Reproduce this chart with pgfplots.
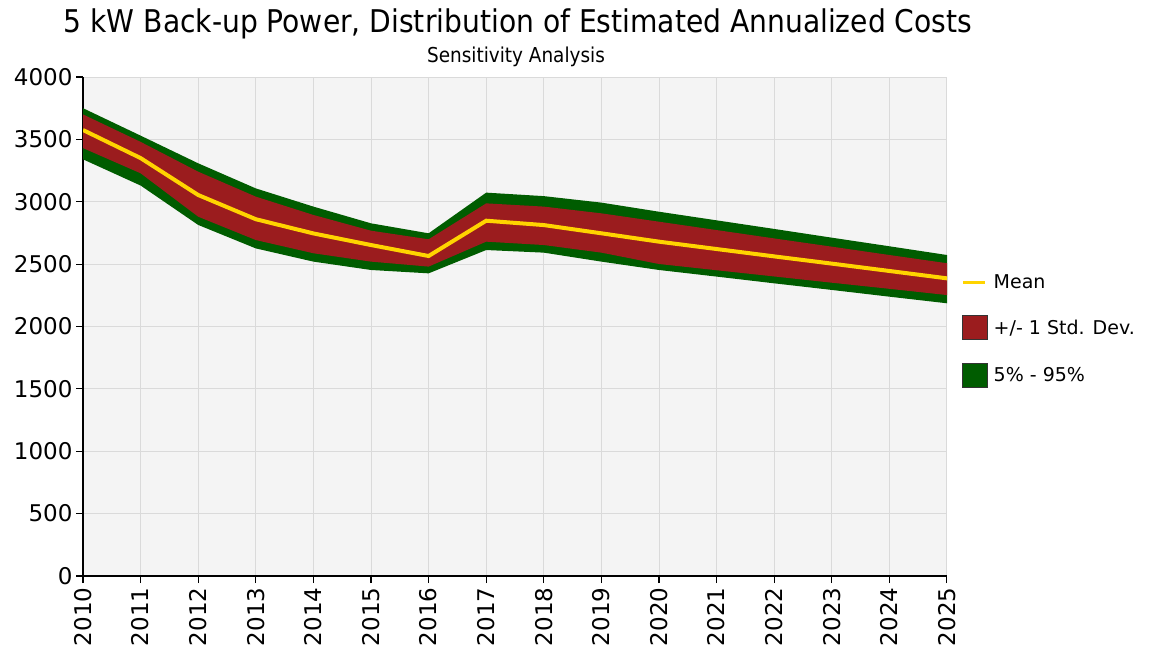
\documentclass[border=0pt]{standalone}
\usepackage{fontspec}
\setmainfont{DejaVu Sans}
\newfontfamily\condfont{DejaVu Sans Condensed}
\usepackage{pgfplots}
\pgfplotsset{compat=1.18}
\usepackage{pgfplotstable}
\usepgfplotslibrary{fillbetween}
\definecolor{bandgreen}{RGB}{0,92,0}
\definecolor{bandred}{RGB}{155,28,30}
\definecolor{meanyellow}{RGB}{255,212,0}
\definecolor{plotbg}{RGB}{244,244,244}
\definecolor{gridgray}{RGB}{218,218,218}
\pgfplotstableread{
year hi95 hi1 mean lo1 lo5
2010 3750 3700 3575 3430 3340
2011 3530 3480 3350 3228 3130
2012 3308 3241 3054 2880 2814
2013 3107 3041 2860 2693 2626
2014 2961 2894 2746 2587 2520
2015 2827 2768 2653 2520 2453
2016 2747 2699 2565 2480 2426
2017 3073 2987 2848 2680 2613
2018 3045 2961 2813 2653 2592
2019 2993 2907 2747 2592 2520
2020 2920 2840 2680 2501 2453
2021 2851 2773 2621 2451 2400
2022 2782 2706 2562 2401 2346
2023 2712 2640 2504 2351 2293
2024 2643 2573 2445 2302 2239
2025 2573 2507 2386 2252 2186
}\costdata
\begin{document}
\begin{tikzpicture}
\begin{axis}[
  name=ax,
  at={(0,0)}, anchor=south west,
  scale only axis, width=864pt, height=499pt,
  xmin=2010, xmax=2025, ymin=0, ymax=4000,
  xtick={2010,...,2025}, ytick={0,500,...,4000},
  axis x line*=bottom, axis y line*=left,
  axis line style={black, line width=1.3pt, -},
  axis background/.style={fill=plotbg},
  grid=major, major grid style={gridgray, line width=0.9pt},
  tick align=outside, major tick length=7pt,
  tick style={black, line width=1.1pt},
  xticklabel style={rotate=90, anchor=east, font=\fontsize{23}{23}\selectfont, xshift=-1pt},
  yticklabel style={font=\fontsize{23}{23}\selectfont},
  x tick label style={/pgf/number format/1000 sep={}},
  /pgf/number format/assume math mode=true,
  /pgf/number format/1000 sep={},
  legend style={at={(1.013,0.612)}, anchor=north west, draw=none, fill=none,
    font=\fontsize{19}{19}\selectfont, row sep=23pt,
    nodes={inner xsep=6pt}},
  legend cell align=left,
]
\addplot[draw=none, name path=hi95, forget plot] table[x=year, y=hi95] {\costdata};
\addplot[draw=none, name path=hi1, forget plot] table[x=year, y=hi1] {\costdata};
\addplot[draw=none, name path=lo1, forget plot] table[x=year, y=lo1] {\costdata};
\addplot[draw=none, name path=lo5, forget plot] table[x=year, y=lo5] {\costdata};
\addplot[bandgreen, forget plot] fill between[of=hi95 and lo5];
\addplot[bandred, forget plot] fill between[of=hi1 and lo1];
\addplot[meanyellow, line width=4pt, forget plot] table[x=year, y=mean] {\costdata};
\addlegendimage{legend image code/.code={\draw[meanyellow, line width=3.5pt] (1pt,0pt) -- (23pt,0pt);}}
\addlegendentry{Mean}
\addlegendimage{legend image code/.code={\draw[fill=bandred, draw=black!80, line width=1pt] (0pt,-12pt) rectangle (25pt,12pt);}}
\addlegendentry{+/- 1 Std. Dev.}
\addlegendimage{legend image code/.code={\draw[fill=bandgreen, draw=black!80, line width=1pt] (0pt,-12pt) rectangle (25pt,12pt);}}
\addlegendentry{5\% - 95\%}
\end{axis}
\node[anchor=base, font=\condfont\fontsize{31.3}{31.3}\selectfont] at (435pt,543pt) {5 kW Back-up Power, Distribution of Estimated Annualized Costs};
\node[anchor=base, font=\condfont\fontsize{20.5}{20.5}\selectfont] at (433pt,513pt) {Sensitivity Analysis};
\path[use as bounding box] (-83pt,-77pt) rectangle (1070pt,576pt);
\end{tikzpicture}
\end{document}
